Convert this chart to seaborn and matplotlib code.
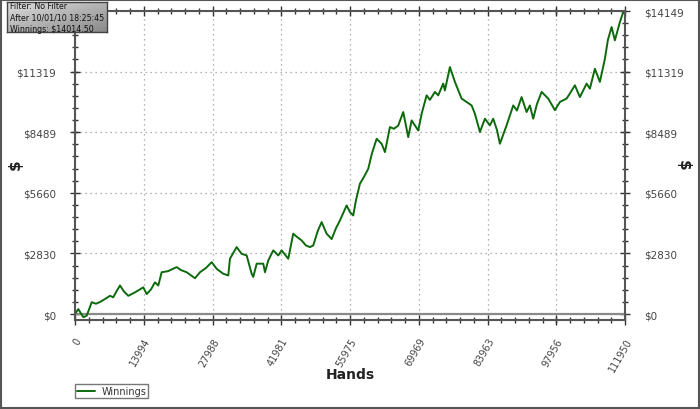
import numpy as np
import pandas as pd
import matplotlib
matplotlib.use("Agg")
import matplotlib.pyplot as plt
from matplotlib.ticker import FixedLocator, MultipleLocator, AutoMinorLocator
from matplotlib.patches import Rectangle
import seaborn as sns

# ---- data ----
hands = [0, 670, 1690, 2380, 3400, 4270, 5090, 6100, 7120, 7790, 8550, 9160, 9970,
         10850, 12210, 13230, 13900, 14590, 15470, 16280, 16950, 17640, 18930, 20700,
         21570, 22730, 24420, 25440, 26660, 27820, 28840, 30180, 31200, 31540, 32900,
         33920, 34940, 35960, 36280, 36980, 38320, 38670, 39340, 40350, 41370, 42060,
         43410, 44420, 45180, 46130, 47010, 47820, 48490, 49450, 50200, 51220, 52240,
         53110, 53930, 55290, 55960, 56630, 57180, 57990, 58810, 59690, 60440, 61400,
         62410, 63090, 64100, 64920, 65790, 66810, 67830, 68520, 69860, 70610, 71570,
         72240, 73260, 73930, 74950, 75290, 76310, 77330, 78690, 79710, 80730, 81400,
         82420, 83440, 84450, 85120, 85880, 86490, 87850, 89200, 89950, 90900, 91920,
         92590, 93270, 94020, 94980, 96320, 97680, 98700, 100060, 100740, 101750,
         102770, 104140, 104800, 105820, 106840, 107860, 108470, 109220, 109890,
         110910, 111590, 111950]
winnings = [0, 230, -150, -80, 550, 480, 560, 700, 850, 780, 1100, 1330, 1050,
            850, 1010, 1150, 1245, 930, 1150, 1480, 1330, 1950, 2000, 2190,
            2050, 1950, 1670, 1950, 2150, 2420, 2110, 1880, 1800, 2580, 3125,
            2810, 2735, 1880, 1730, 2350, 2350, 1950, 2500, 2970, 2735, 2970,
            2580, 3750, 3600, 3435, 3200, 3125, 3200, 3900, 4290, 3750, 3500,
            4000, 4370, 5070, 4760, 4600, 5300, 6080, 6400, 6780, 7500, 8180,
            7950, 7560, 8730, 8650, 8800, 9430, 8260, 9040, 8570, 9400, 10210,
            10000, 10370, 10210, 10760, 10440, 11530, 10840, 10060, 9900, 9740, 9350,
            8500, 9120, 8810, 9120, 8600, 7950, 8810, 9740, 9500, 10130, 9430,
            9740, 9120, 9800, 10370, 10060, 9520, 9900, 10060, 10300, 10680,
            10130, 10760, 10520, 11450, 10840, 11920, 12800, 13400, 12780,
            13630, 14100, 14014.50]

x_ticks = [0, 13994, 27988, 41981, 55975, 69969, 83963, 97956, 111950]
y_ticks = [0, 2830, 5660, 8489, 11319, 14149]
y_labels = ["$0", "$2830", "$5660", "$8489", "$11319", "$14149"]
series_name = "Winnings"
info_lines = ["Filter: No Filter", "After 10/01/10 18:25:45", "Winnings: $14014.50"]

df = pd.DataFrame({"Hands": hands, "Winnings": winnings, "series": series_name})

sns.set_theme(style="white")
plt.rcParams["font.family"] = ["DejaVu Sans"]

fig = plt.figure(figsize=(7.0, 4.1), dpi=100)
fig.patch.set_facecolor("white")
ax = fig.add_axes([75 / 700, 1 - 321 / 410, 550 / 700, (321 - 12) / 410])

sns.lineplot(data=df, x="Hands", y="Winnings", hue="series", palette=["#0c6a0c"],
             linewidth=1.4, estimator=None, ax=ax, legend=False)

ax.set_xlim(0, 111950)
ax.set_ylim(-280, 14149)
ax.axhline(0, color="#8a8a8a", lw=1.6, zorder=1)

ax.xaxis.set_major_locator(FixedLocator(x_ticks))
ax.xaxis.set_minor_locator(AutoMinorLocator(5))
ax.yaxis.set_major_locator(FixedLocator(y_ticks))
ax.yaxis.set_minor_locator(MultipleLocator(566))
ax.set_xticklabels([str(v) for v in x_ticks], rotation=60, ha="right",
                   rotation_mode="anchor", fontsize=7, color="#444444")
ax.set_yticklabels([s.replace("$", r"\$") for s in y_labels], fontsize=7.5, color="#444444")

ax.tick_params(axis="both", which="major", direction="inout", length=7, width=1,
               color="#333333", top=True, right=True, bottom=True, left=True,
               labelright=True, labelleft=True)
ax.tick_params(axis="both", which="minor", direction="inout", length=5, width=1,
               color="#333333", top=True, right=True, bottom=True, left=True)
ax.tick_params(axis="x", which="major", pad=8)
ax.tick_params(axis="y", which="major", pad=10)
# the left top label is covered by the info box in the reference
ax.yaxis.get_major_ticks()[-1].label1.set_visible(False)

for side in ["left", "right", "top", "bottom"]:
    ax.spines[side].set_visible(True)
    ax.spines[side].set_color("#555555")
    ax.spines[side].set_linewidth(1.5)

ax.grid(True, which="major", linestyle=(0, (1, 3)), color="#999999", linewidth=0.9)
ax.set_xlabel("")
ax.set_ylabel("")

fig.text(350 / 700, 1 - 375 / 410, "Hands", ha="center", va="center",
         fontsize=10, fontweight="bold", color="#222222")
fig.text(15 / 700, 1 - 165 / 410, r"\$", ha="center", va="center", rotation=90,
         fontsize=11, fontweight="bold", color="#222222")
fig.text(683 / 700, 1 - 165 / 410, r"\$", ha="center", va="center", rotation=270,
         fontsize=11, fontweight="bold", color="#222222")

# legend
handle = ax.plot([], [], color="#0c6a0c", lw=1.4, label=series_name)[0]
leg = fig.legend(handles=[handle], loc="lower left",
                 bbox_to_anchor=(75 / 700, 1 - 399 / 410), fontsize=7,
                 frameon=True, fancybox=False, edgecolor="#555555",
                 handlelength=1.9, borderpad=0.2, handletextpad=0.6,
                 borderaxespad=0)
leg.get_frame().set_linewidth(1.0)
for t in leg.get_texts():
    t.set_color("#333333")

# info box with gradient
iax = fig.add_axes([7 / 700, 1 - 33 / 410, 100 / 700, 30 / 410])
gx, gy = np.meshgrid(np.linspace(0, 1, 100), np.linspace(0, 1, 30))
t = 0.5 * gx + 0.5 * gy
level = 0.87 - 0.33 * t
rgb = np.dstack([level, level, level])
iax.imshow(rgb, aspect="auto", extent=[0, 1, 0, 1], origin="upper")
iax.set_xticks([])
iax.set_yticks([])
for s in iax.spines.values():
    s.set_color("#444444")
    s.set_linewidth(1.0)
iax.text(0.025, 0.5, "\n".join(info_lines), transform=iax.transAxes, ha="left",
         va="center", fontsize=5.7, linespacing=1.3, color="#111111")

# outer frame
fig.patches.append(Rectangle((0.001, 0.002), 0.997, 0.996, transform=fig.transFigure,
                             fill=False, edgecolor="#555555", linewidth=1.5))

fig.savefig("out.png", dpi=100, facecolor="white")
